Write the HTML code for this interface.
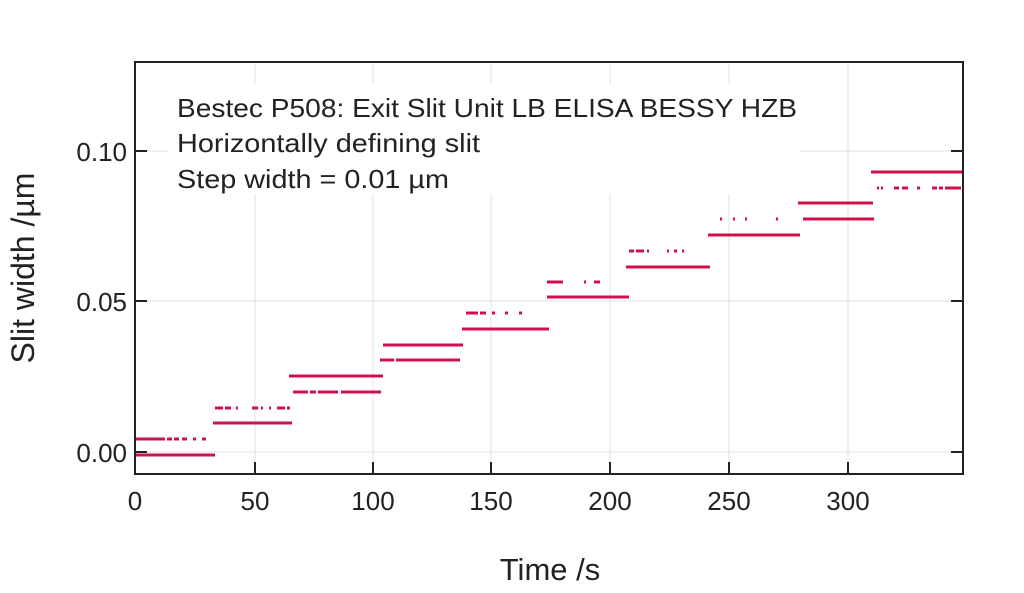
<!DOCTYPE html><html><head><style>body{margin:0;background:#fff}</style></head><body>
<svg width="1024" height="588" xmlns="http://www.w3.org/2000/svg" font-family="Liberation Sans, sans-serif">
<rect width="1024" height="588" fill="#fff"/>
<g stroke="#e2e2e2" stroke-width="1">
<line x1="255" y1="62" x2="255" y2="474"/><line x1="373" y1="62" x2="373" y2="474"/><line x1="491" y1="62" x2="491" y2="474"/><line x1="610" y1="62" x2="610" y2="474"/><line x1="729" y1="62" x2="729" y2="474"/><line x1="848" y1="62" x2="848" y2="474"/>
<line x1="135" y1="151" x2="963" y2="151"/><line x1="135" y1="301" x2="963" y2="301"/><line x1="135" y1="452" x2="963" y2="452"/>
</g>
<rect x="168" y="84" width="632" height="110" fill="#fff"/>
<g stroke="#d0104a" stroke-width="3">
<line x1="135" y1="455" x2="215" y2="455"/><line x1="135" y1="439" x2="208" y2="439" stroke-dasharray="30,2,5,2,5,3,5,6,3,6,4"/>
<line x1="213" y1="423" x2="292" y2="423"/><line x1="215" y1="408" x2="290" y2="408" stroke-dasharray="8,2,6,5,2,14,6,3,2,6,2,6"/>
<line x1="289" y1="376" x2="383" y2="376"/><line x1="293" y1="392" x2="383" y2="392" stroke-dasharray="15,2,6,2,20,3,40"/>
<line x1="383" y1="345" x2="463" y2="345"/><line x1="380" y1="360" x2="464" y2="360" stroke-dasharray="14,2,64"/>
<line x1="462" y1="329" x2="549" y2="329"/><line x1="466" y1="313" x2="531" y2="313" stroke-dasharray="12,2,6,6,3,10,3,11,3"/>
<line x1="547" y1="297" x2="629" y2="297"/><line x1="547" y1="282" x2="569" y2="282" stroke-dasharray="16,6"/><line x1="584" y1="282" x2="601" y2="282" stroke-dasharray="2,8,6"/>
<line x1="626" y1="267" x2="710" y2="267"/><line x1="629" y1="251" x2="688" y2="251" stroke-dasharray="5,2,8,3,2,18,2,5,3"/>
<line x1="708" y1="235" x2="800" y2="235"/><line x1="720" y1="219" x2="780" y2="219" stroke-dasharray="2,11,2,10,2,29,2"/>
<line x1="798" y1="203" x2="873" y2="203"/><line x1="803" y1="219" x2="874" y2="219"/>
<line x1="871" y1="172" x2="963" y2="172"/><line x1="877" y1="188" x2="963" y2="188" stroke-dasharray="2,2,2,11,5,3,6,9,3,12,5,2,4,2,16"/>
</g>
<rect x="135" y="62" width="828" height="412" fill="none" stroke="#222" stroke-width="2"/>
<g stroke="#222" stroke-width="2">
<line x1="255" y1="474" x2="255" y2="462"/><line x1="373" y1="474" x2="373" y2="462"/><line x1="491" y1="474" x2="491" y2="462"/><line x1="610" y1="474" x2="610" y2="462"/><line x1="729" y1="474" x2="729" y2="462"/><line x1="848" y1="474" x2="848" y2="462"/>
<line x1="135" y1="151" x2="147" y2="151"/><line x1="135" y1="301" x2="147" y2="301"/><line x1="135" y1="452" x2="147" y2="452"/>
<line x1="963" y1="151" x2="951" y2="151"/><line x1="963" y1="301" x2="951" y2="301"/><line x1="963" y1="452" x2="951" y2="452"/>
</g>
<g font-size="26" fill="#222" text-anchor="middle">
<text x="135" y="510">0</text><text x="255" y="510">50</text><text x="373" y="510">100</text><text x="491" y="510">150</text><text x="610" y="510">200</text><text x="729" y="510">250</text><text x="848" y="510">300</text>
</g>
<g font-size="26" fill="#222" text-anchor="end">
<text x="127" y="161">0.10</text><text x="127" y="311">0.05</text><text x="127" y="462">0.00</text>
</g>
<text x="550" y="580" font-size="31" fill="#222" text-anchor="middle">Time /s</text>
<text transform="translate(34,268) rotate(-90)" font-size="32" fill="#222" text-anchor="middle">Slit width /µm</text>
<g font-size="26" fill="#222">
<text x="177" y="117" textLength="620" lengthAdjust="spacingAndGlyphs">Bestec P508: Exit Slit Unit LB ELISA BESSY HZB</text>
<text x="177" y="152" textLength="303" lengthAdjust="spacingAndGlyphs">Horizontally defining slit</text>
<text x="177" y="188" textLength="272" lengthAdjust="spacingAndGlyphs">Step width = 0.01 µm</text>
</g>
</svg>
</body></html>
